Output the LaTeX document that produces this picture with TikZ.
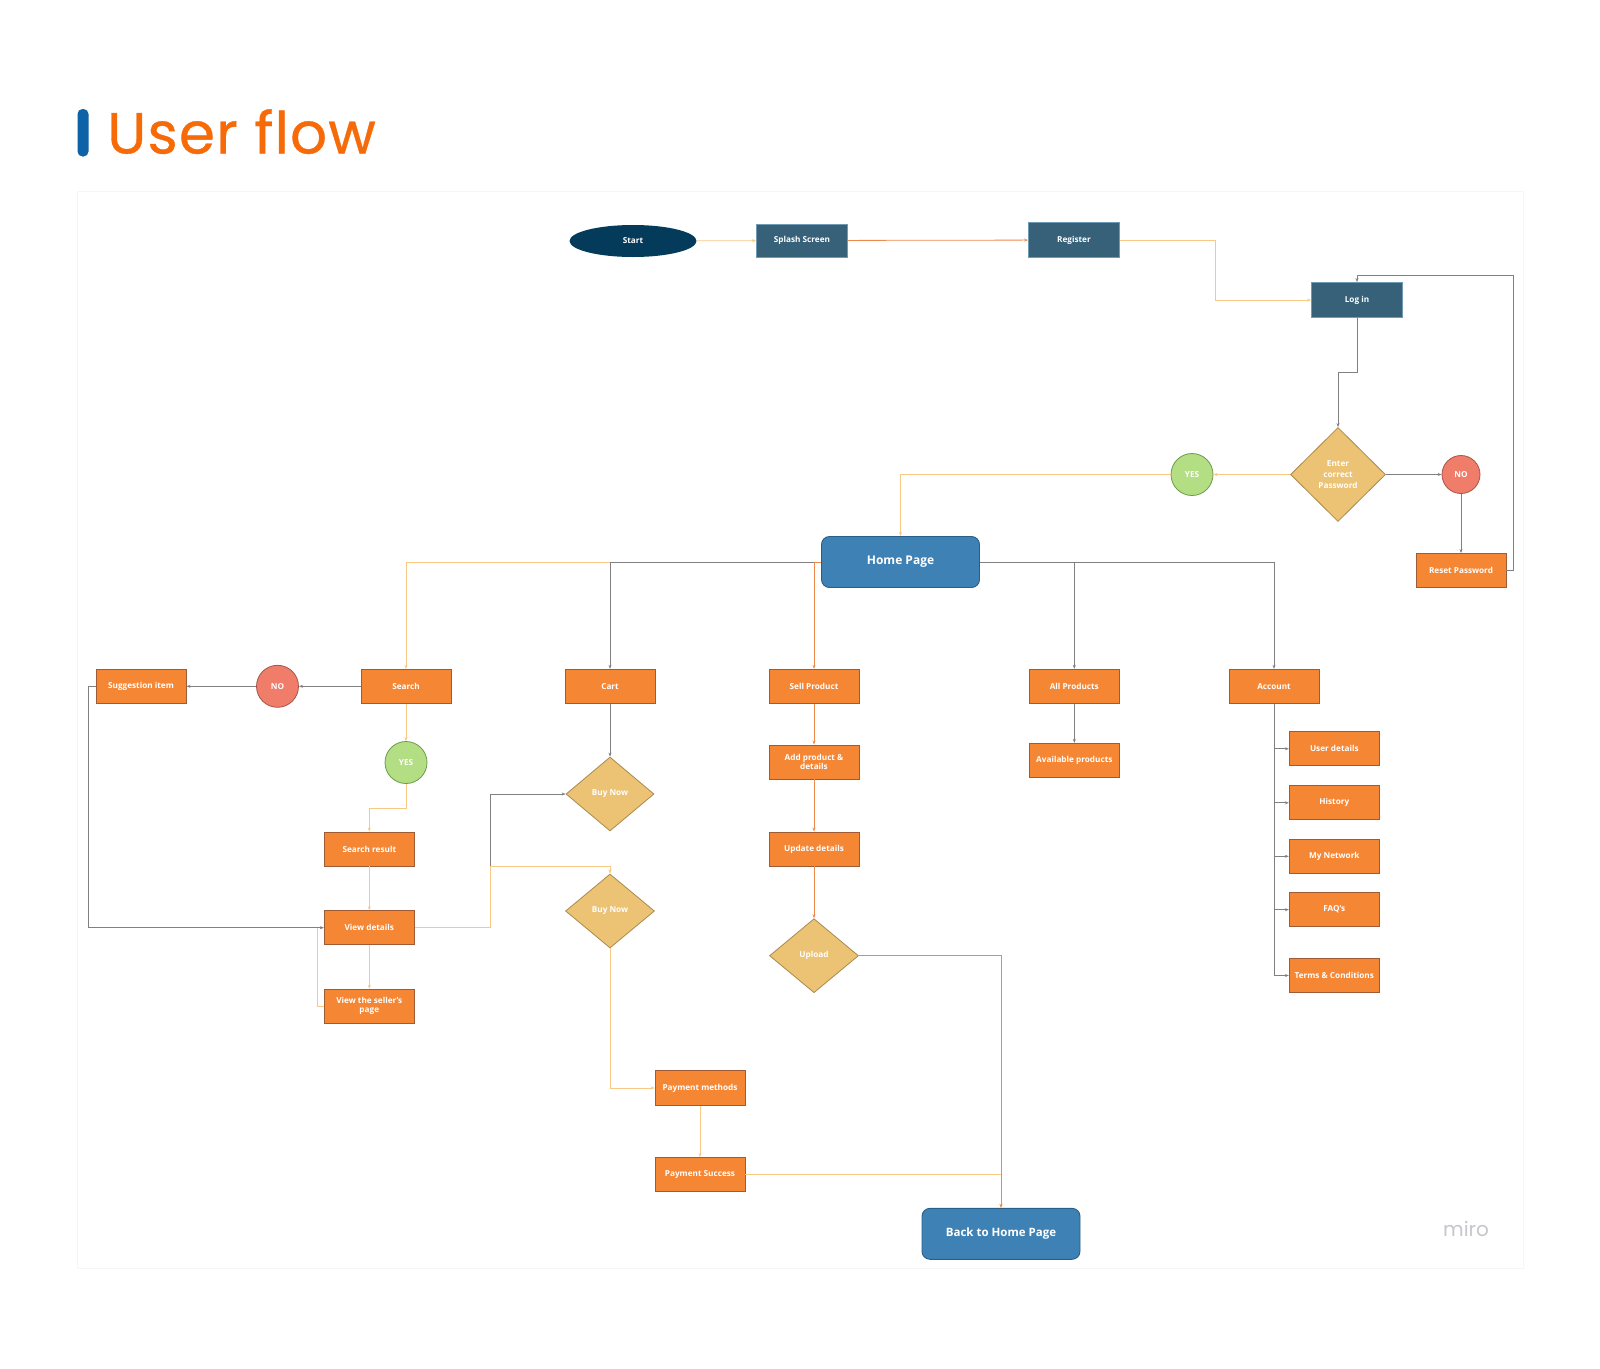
\documentclass[tikz,border=0pt]{standalone}
\usepackage{fontspec}
\setmainfont{Open Sans}
\newfontfamily\titlefont{Poppins}
\newfontfamily\titlefontbold[FakeBold=0.6,LetterSpace=2]{Poppins}
\usetikzlibrary{arrows.meta,shapes.geometric,calc}
\definecolor{boxfill}{HTML}{F58634}
\definecolor{boxborder}{HTML}{9E5B35}
\definecolor{navy}{HTML}{053B5A}
\definecolor{teal}{HTML}{376179}
\definecolor{tealborder}{HTML}{6F9AB5}
\definecolor{homeblue}{HTML}{3E82B5}
\definecolor{homeborder}{HTML}{2B5E86}
\definecolor{gold}{HTML}{ECC274}
\definecolor{goldborder}{HTML}{A98A4F}
\definecolor{yesgreen}{HTML}{B3DE83}
\definecolor{yesborder}{HTML}{6C9A4C}
\definecolor{nored}{HTML}{F07D6A}
\definecolor{noborder}{HTML}{A65548}
\definecolor{lightline}{HTML}{F7C985}
\definecolor{orangeline}{HTML}{EE8A4C}
\definecolor{grayline}{HTML}{808080}
\definecolor{titleorange}{HTML}{F76A08}
\definecolor{barblue}{HTML}{0D63A5}
\definecolor{framegray}{HTML}{F6F6F6}
\definecolor{mirogray}{HTML}{C6C6CC}
\tikzset{
  box/.style={draw=boxborder, fill=boxfill, line width=0.9pt, minimum width=90, minimum height=34,
    inner sep=1pt, text=white, align=center, font=\fontsize{8.2}{9}\selectfont\bfseries},
  tealbox/.style={box, draw=tealborder, fill=teal, minimum width=91, minimum height=34},
  homebox/.style={draw=homeborder, fill=homeblue, line width=0.9pt, rounded corners=8, minimum width=158,
    minimum height=51, text=white, font=\fontsize{12}{13}\selectfont\bfseries},
  decision/.style={diamond, draw=goldborder, fill=gold, line width=0.8pt, minimum width=89, minimum height=74,
    inner sep=0pt, text=white, align=center, font=\fontsize{8.2}{11}\selectfont\bfseries},
  yesc/.style={circle, draw=yesborder, fill=yesgreen, line width=0.8pt, minimum size=42, inner sep=0pt,
    text=white, font=\fontsize{8.2}{9}\selectfont\bfseries},
  noc/.style={yesc, draw=noborder, fill=nored},
  conn/.style={line width=0.8pt, -{Stealth[length=4pt,width=3pt]}},
  lo/.style={conn, draw=lightline},
  og/.style={conn, draw=orangeline},
  gy/.style={conn, draw=grayline},
}
\begin{document}
\begin{tikzpicture}[x=1pt,y=-1pt]
\useasboundingbox[fill=white] (0,0) rectangle (1600,1368);
% frame
\draw[framegray, line width=0.8pt] (77,191) rectangle (1523,1268);
% title
\fill[barblue, rounded corners=5] (77.5,109) rectangle (88.5,156.5);
\node[anchor=base west, inner sep=0pt, text=titleorange, font=\titlefontbold\fontsize{58}{60}\selectfont] (title) at (107,153.5) {User flow};
% miro
\node[anchor=base west, inner sep=0pt, text=mirogray, font=\titlefont\fontsize{20}{22}\selectfont] (miro) at (1443,1236) {miro};

% top row
\node[ellipse, fill=navy, minimum width=127, minimum height=32, inner sep=0pt, text=white,
  font=\fontsize{8.2}{9}\selectfont\bfseries] (start) at (633,241) {Start};
\node[tealbox, minimum height=33] (splash) at (802,240.5) {Splash Screen};
\node[tealbox, minimum height=35] (register) at (1074,240) {Register};
\node[tealbox, minimum height=35] (login) at (1357,300) {Log in};
\node[decision, minimum width=95, minimum height=94] (pw) at (1338,474.5) {Enter\\correct\\Password};
\node[yesc] (yes1) at (1192,474.5) {YES};
\node[noc, minimum size=38] (no1) at (1461,474.5) {NO};
\node[box] (reset) at (1461,570.5) {Reset Password};
\node[homebox] (home) at (900.5,562) {Home Page};

% second row
\node[box] (search) at (406,686.3) {Search};
\node[noc] (no2) at (277.5,686.3) {NO};
\node[box] (sugg) at (141,686.3) {Suggestion item};
\node[yesc] (yes2) at (406,762.5) {YES};
\node[box] (sresult) at (369.3,849) {Search result};
\node[box] (vdetails) at (369.3,927.7) {View details};
\node[box] (seller) at (369.3,1006.3) {View the seller’s\\page};

\node[box] (cart) at (610,686.3) {Cart};
\node[decision, minimum width=88] (buy1) at (610,794) {Buy Now};
\node[decision, minimum width=89] (buy2) at (610,911) {Buy Now};
\node[box, minimum height=35] (paym) at (700,1088) {Payment methods};
\node[box] (pays) at (700,1174.5) {Payment Success};
\node[homebox, font=\fontsize{11.5}{13}\selectfont\bfseries] (back) at (1001,1233.8) {Back to Home Page};

\node[box] (sell) at (814,686.3) {Sell Product};
\node[box] (add) at (814,762) {Add product \&\\details};
\node[box] (update) at (814,849) {Update details};
\node[decision] (upload) at (814,955.7) {Upload};

\node[box] (allp) at (1074.3,686.3) {All Products};
\node[box] (avail) at (1074.3,760.3) {Available products};

\node[box] (account) at (1274,686.3) {Account};
\node[box] (udet) at (1334.3,748.8) {User details};
\node[box] (hist) at (1334.3,802.8) {History};
\node[box] (net) at (1334.3,856.3) {My Network};
\node[box] (faq) at (1334.3,909.7) {FAQ’s};
\node[box] (terms) at (1334.3,975.5) {Terms \& Conditions};

% connectors top
\draw[lo] (start) -- (splash);
\draw[og] (splash) -- (register);
\draw[lo] (register.east) -- ++(95,0) |- (login.west);
\draw[gy] (login.south) -- ++(0,54) -| (pw.north);
\draw[lo] (pw.west) -- (yes1.east);
\draw[gy] (pw.east) -- (no1.west);
\draw[gy] (no1.south) -- (reset.north);
\draw[gy] (reset.east) -- ++(7,0) |- ($(login.north)+(0,-7)$) -- (login.north);
\draw[lo] (yes1.west) -| (home.north);

% home branches
\draw[lo] (home.west) -| (search.north);
\draw[gy] (home.west) -| (cart.north);
\draw[og] (home.west) -| (sell.north);
\draw[gy] (home.east) -| (allp.north);
\draw[gy] (home.east) -| (account.north);

% search branch
\draw[gy] (search.west) -- (no2.east);
\draw[gy] (no2.west) -- (sugg.east);
\draw[lo] (search.south) -- (yes2.north);
\draw[lo] (yes2.south) -- ++(0,24) -| (sresult.north);
\draw[lo] (sresult) -- (vdetails);
\draw[lo] (vdetails) -- (seller);
\draw[lo] (seller.west) -- ++(-6.6,0) |- (vdetails.west);
\draw[gy] (sugg.west) -- ++(-7,0) |- (vdetails.west);
\draw[gy] (vdetails.east) -- ++(75.7,0) |- (buy1.west);
\draw[lo] (vdetails.east) -- ++(75.7,0) |- ($(buy2.north)+(0,-7.3)$) -- (buy2.north);

% cart branch
\draw[gy] (cart) -- (buy1);
\draw[lo] (buy2.south) |- (paym.west);
\draw[lo] (paym) -- (pays);
\draw[lo] (pays.east) -| (back.north);

% sell branch
\draw[og] (sell) -- (add);
\draw[og] (add) -- (update);
\draw[og] (update) -- (upload);
\draw[og] (upload.east) -| (back.north);

% all products
\draw[gy] (allp) -- (avail);

% account
\draw[gy] (account.south) |- (udet.west);
\draw[gy] (account.south) |- (hist.west);
\draw[gy] (account.south) |- (net.west);
\draw[gy] (account.south) |- (faq.west);
\draw[gy] (account.south) |- (terms.west);
\end{tikzpicture}
\end{document}
